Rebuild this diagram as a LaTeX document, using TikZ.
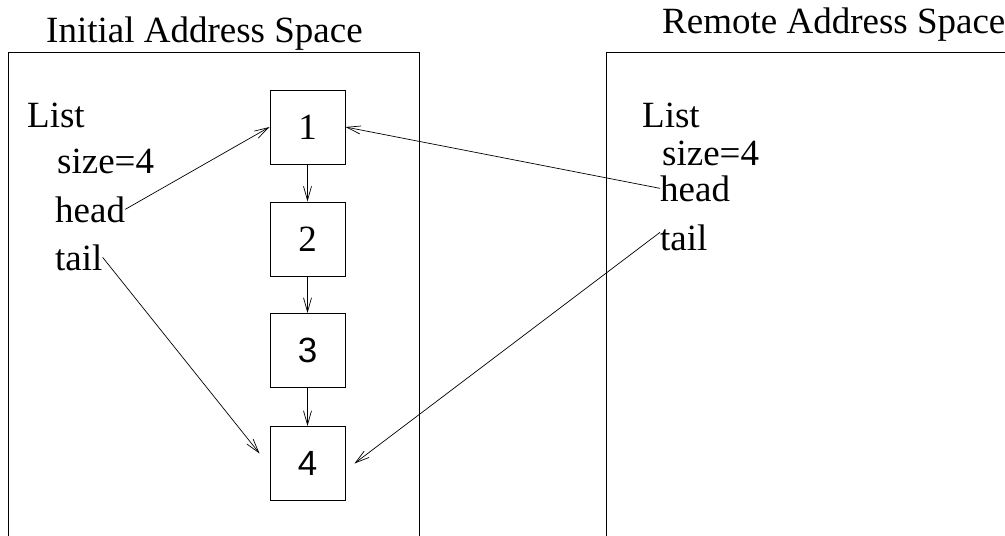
\documentclass[tikz,border=0pt]{standalone}
\usepackage{fontspec}
\setmainfont{Liberation Serif}
\newfontfamily\digsans{Liberation Sans}
\usetikzlibrary{arrows.meta,calc}
\begin{document}
\begin{tikzpicture}[x=1pt,y=-1pt,
  txt/.style={anchor=base west,inner sep=0pt,font=\fontsize{37}{40}\selectfont},
  cell/.style={draw,line width=0.9pt,minimum width=75pt,minimum height=74pt,inner sep=0pt,font=\fontsize{37}{40}\selectfont},
  space/.style={draw,line width=1pt},
  link/.style={line width=0.7pt,-{Straight Barb[length=14pt,width=8pt,line width=0.7pt]}}]
\clip (0,0) rectangle (1005,536);
\fill[white] (0,0) rectangle (1005,536);
% address spaces
\draw[space] (8,52) rectangle (419,560);
\draw[space] (606,52) rectangle (1030,560);
\node[txt] (titleL) at (46,42) {Initial Address Space};
\node[txt] (titleR) at (662,33) {Remote Address Space};
% left list
\node[txt] (listL) at (27,127) {List};
\node[txt] (sizeL) at (57,173) {size=4};
\node[txt] (headL) at (55,222) {head};
\node[txt] (tailL) at (55,270) {tail};
% right list
\node[txt] (listR) at (642,127) {List};
\node[txt] (sizeR) at (662,165) {size=4};
\node[txt] (headR) at (660,201) {head};
\node[txt] (tailR) at (660,250) {tail};
% cells
\node[cell] (b1) at (307.5,127) {1};
\node[cell] (b2) at (307.5,239) {2};
\node[cell,font=\fontsize{35}{40}\digsans] (b3) at (307.5,350.5) {3};
\node[cell,font=\fontsize{35}{40}\digsans] (b4) at (307.5,463.5) {4};
% connectors
\draw[link] (b1.south) -- (b2.north);
\draw[link] (b2.south) -- (b3.north);
\draw[link] (b3.south) -- (b4.north);
\coordinate (t4L) at ($(b4.west)+(-10,-10)$);
\coordinate (t4R) at ($(b4.east)+(9,0)$);
\coordinate (tRs) at ($(tailR.west)+(0,-5)$);
\draw[link] (headL.east) -- (b1.west);
\draw[link] (tailL.east) -- (t4L);
\draw[link] (headR.west) -- (b1.east);
\draw[link] (tRs) -- (t4R);
\end{tikzpicture}
\end{document}
